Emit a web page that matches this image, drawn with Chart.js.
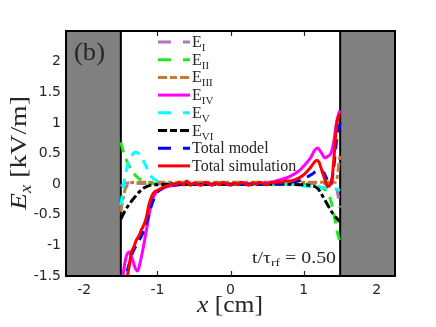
<!DOCTYPE html>
<html>
<head>
<meta charset="utf-8">
<script src="https://cdn.jsdelivr.net/npm/chart.js@4"></script>
<style>
  html, body { margin: 0; padding: 0; background: #fff; }
</style>
</head>
<body>
<canvas id="exChart" width="436" height="327"></canvas>
<script>
// tick values
const xTicks = [-2, -1, 0, 1, 2];
const yTicks = [-1.5, -1, -0.5, 0, 0.5, 1, 1.5, 2];
// electrode walls (x range in cm)
const wallLeft = [-2.25, -1.5];
const wallRight = [1.5, 2.25];

const seriesNames = ["E_I", "E_II", "E_III", "E_IV", "E_V", "E_VI", "Total model", "Total simulation"];

// E_I
const xI = [-1.5, -1.47, -1.44, -1.4, -1.2, -0.5, 0.5, 1.2, 1.4, 1.44, 1.47, 1.5];
const yI = [-0.04, 0, 0.02, 0.02, 0.01, 0, 0, 0.01, 0.01, -0.02, -0.18, -0.38];
// E_II
const xII = [-1.5, -1.47, -1.44, -1.4, -1.35, -1.3, -1.25, -1.2, -1.1, -1.0, 0, 1.0, 1.15, 1.25, 1.32, 1.38, 1.42, 1.46, 1.5];
const yII = [0.68, 0.55, 0.44, 0.33, 0.22, 0.14, 0.09, 0.05, 0.02, 0.01, 0, 0, -0.02, -0.06, -0.13, -0.3, -0.52, -0.78, -0.95];
// E_III
const xIII = [-1.5, -1.48, -1.46, -1.44, -1.41, -1.38, -1.3, -1.0, 0, 1.0, 1.43, 1.46, 1.48, 1.5];
const yIII = [-0.45, -0.3, -0.18, -0.08, -0.02, 0.01, 0.03, 0.03, 0.03, 0.03, 0.03, 0.12, 0.3, 0.5];
// E_IV
const xIV = [-1.49, -1.46, -1.43, -1.39, -1.35, -1.3, -1.27, -1.24, -1.2, -1.15, -1.11, -1.07, -1.03, -1.0, -0.93, -0.86, -0.7, -0.4, 0, 0.4,
  0.55, 0.67, 0.8, 0.95, 1.05, 1.1, 1.15, 1.19, 1.24, 1.29, 1.34, 1.38, 1.42, 1.45, 1.48, 1.5];
const yIV = [-1.7, -1.4, -1.2, -1.11, -1.2, -1.38, -1.42, -1.3, -1.08, -0.75, -0.48, -0.26, -0.16, -0.12, -0.07, -0.04, -0.01, 0, 0, 0.01,
  0.03, 0.07, 0.12, 0.23, 0.36, 0.44, 0.55, 0.59, 0.52, 0.43, 0.46, 0.52, 0.75, 1.0, 1.15, 1.2];
// E_V
const xV = [-1.5, -1.46, -1.42, -1.37, -1.3, -1.24, -1.17, -1.1, -1.0, -0.9, -0.7, 0, 0.8, 1.0, 1.2, 1.35, 1.45, 1.5];
const yV = [-0.35, 0.0, 0.25, 0.42, 0.52, 0.48, 0.33, 0.15, 0.05, 0.02, 0.0, 0, 0, -0.03, -0.05, -0.06, -0.08, -0.1];
// E_VI
const xVI = [-1.5, -1.45, -1.38, -1.3, -1.25, -1.18, -1.1, -1.0, -0.8, 0, 0.8, 0.95, 1.1, 1.2, 1.3, 1.4, 1.5];
const yVI = [-0.57, -0.45, -0.32, -0.2, -0.13, -0.06, -0.02, -0.01, 0, 0, 0, -0.01, -0.02, -0.08, -0.28, -0.48, -0.62];
// Total model
const xModel = [-1.46, -1.42, -1.38, -1.34, -1.28, -1.2, -1.14, -1.1, -1.06, -1.0, -0.9, -0.8, -0.5, 0.5, 0.8, 0.95, 1.1, 1.2, 1.28, 1.33, 1.37, 1.41, 1.45, 1.5];
const yModel = [-1.7, -1.45, -1.28, -1.12, -0.98, -0.8, -0.6, -0.42, -0.28, -0.13, -0.05, -0.02, 0, 0, 0.03, 0.06, 0.15, 0.22, 0.18, 0.05, 0.0, 0.25, 0.7, 1.0];
// Total simulation
const xSim = [-1.44, -1.41, -1.38, -1.36, -1.32, -1.29, -1.25, -1.22, -1.18, -1.15, -1.13, -1.11, -1.09, -1.07, -1.04, -1.0, -0.95, -0.9, -0.85,
  -0.8, -0.75, -0.7, -0.65, -0.6, -0.55, -0.5, -0.45, -0.4, -0.35, -0.3, -0.25, -0.2, -0.15, -0.1, -0.05, 0,
  0.05, 0.1, 0.15, 0.2, 0.25, 0.3, 0.35, 0.4, 0.45, 0.5, 0.55, 0.6, 0.65, 0.7, 0.75, 0.8,
  0.85, 0.9, 0.95, 1.0, 1.05, 1.1, 1.15, 1.18, 1.21, 1.25, 1.29, 1.33, 1.36, 1.39, 1.42, 1.45, 1.48, 1.5];
const ySim = [-1.7, -1.5, -1.3, -1.13, -1.02, -0.92, -0.84, -0.75, -0.65, -0.54, -0.42, -0.31, -0.24, -0.18, -0.13, -0.1, -0.07, -0.04, -0.02,
  0.01, -0.02, 0.03, -0.01, 0.05, -0.02, 0.02, 0.0, -0.02, 0.03, 0.01, -0.02, 0.02, -0.01, 0.03, 0.0, -0.02,
  0.02, -0.01, 0.03, 0.01, -0.02, 0.02, 0.0, 0.03, 0.01, -0.01, 0.03, 0.02, 0.04, 0.03, 0.05, 0.05,
  0.06, 0.08, 0.11, 0.15, 0.21, 0.28, 0.36, 0.39, 0.36, 0.22, 0.08, -0.04, -0.02, 0.1, 0.5, 0.95, 1.12, 1.15];

const pts = (xs, ys) => xs.map((x, i) => ({ x: x, y: ys[i] }));

const DASH = [10, 7];
const DASHDOT = [9, 3, 4, 3];

function line(label, xs, ys, color, dash, legendDash, order) {
  return {
    label: label,
    data: pts(xs, ys),
    borderColor: color,
    backgroundColor: color,
    borderWidth: 3,
    borderDash: dash,
    legendDash: legendDash,
    pointRadius: 0,
    fill: false,
    cubicInterpolationMode: "monotone",
    order: order
  };
}

const datasets = [
  line(seriesNames[0], xI, yI, "#b077b8", DASH, [13, 12], 8),
  line(seriesNames[1], xII, yII, "#22e822", DASH, [13, 12], 7),
  line(seriesNames[2], xIII, yIII, "#c27a35", DASHDOT, [9, 3, 7, 3], 6),
  line(seriesNames[3], xIV, yIV, "#ff00ff", [], [], 5),
  line(seriesNames[4], xV, yV, "#00ffff", DASH, [13, 12], 4),
  line(seriesNames[5], xVI, yVI, "#000000", DASHDOT, [9, 3, 7, 3], 3),
  line(seriesNames[6], xModel, yModel, "#0000ff", DASH, [13, 12], 2),
  line(seriesNames[7], xSim, ySim, "#ff0000", [], [], 1)
];

// text with sub-scripts: parts [text, size, italic, dy]
function richWidth(ctx, parts) {
  let w = 0;
  parts.forEach(p => {
    ctx.font = (p[2] ? "italic " : "") + p[1] + "px 'Liberation Serif'";
    w += ctx.measureText(p[0]).width;
  });
  return w;
}
function drawRich(ctx, parts, x, y, align, targetW) {
  const w = richWidth(ctx, parts);
  const sx = targetW ? targetW / w : 1;
  ctx.save();
  let start = x;
  if (align === "center") start = x - w * sx / 2;
  if (align === "right") start = x - w * sx;
  ctx.translate(start, y);
  ctx.scale(sx, 1);
  ctx.textBaseline = "alphabetic";
  ctx.textAlign = "left";
  let cx = 0;
  parts.forEach(p => {
    ctx.font = (p[2] ? "italic " : "") + p[1] + "px 'Liberation Serif'";
    ctx.fillText(p[0], cx, p[3] || 0);
    cx += ctx.measureText(p[0]).width;
  });
  ctx.restore();
}

const legendParts = [
  [["E", 16], ["I", 11, false, 4]],
  [["E", 16], ["II", 11, false, 4]],
  [["E", 16], ["III", 11, false, 4]],
  [["E", 16], ["IV", 11, false, 4]],
  [["E", 16], ["V", 11, false, 4]],
  [["E", 16], ["VI", 11, false, 4]],
  [["Total model", 16]],
  [["Total simulation", 16]]
];

const figurePlugin = {
  id: "figure",
  beforeDatasetsDraw(chart) {
    const { ctx, chartArea: a, scales: { x, y } } = chart;
    ctx.save();
    ctx.strokeStyle = "#262626";
    ctx.lineWidth = 1.2;
    ctx.beginPath();
    xTicks.forEach(v => {
      const px = Math.round(x.getPixelForValue(v)) + 0.5;
      ctx.moveTo(px, a.bottom); ctx.lineTo(px, a.bottom - 5);
      ctx.moveTo(px, a.top); ctx.lineTo(px, a.top + 5);
    });
    ctx.stroke();
    ctx.fillStyle = "#808080";
    ctx.strokeStyle = "#000";
    ctx.lineWidth = 2;
    [wallLeft, wallRight].forEach(w => {
      const x0 = x.getPixelForValue(w[0]);
      const x1 = x.getPixelForValue(w[1]);
      ctx.fillRect(x0, a.top, x1 - x0, a.bottom - a.top);
      ctx.strokeRect(x0, a.top, x1 - x0, a.bottom - a.top);
    });
    ctx.restore();
  },
  afterDatasetsDraw(chart) {
    const { ctx, chartArea: a } = chart;
    ctx.save();
    // frame
    ctx.strokeStyle = "#000";
    ctx.lineWidth = 2;
    ctx.strokeRect(a.left, a.top, a.right - a.left, a.bottom - a.top);

    // legend
    chart.data.datasets.forEach((ds, i) => {
      const cy = 42 + i * 17.7;
      ctx.strokeStyle = ds.borderColor;
      ctx.lineWidth = 3;
      ctx.setLineDash(ds.legendDash);
      ctx.beginPath();
      ctx.moveTo(158, cy);
      ctx.lineTo(190, cy);
      ctx.stroke();
      ctx.setLineDash([]);
      ctx.fillStyle = "#262626";
      drawRich(ctx, legendParts[i], 192, cy + 5, "left");
    });

    ctx.fillStyle = "#262626";
    // panel label
    drawRich(ctx, [["(b)", 26]], 74, 60, "left", 31);
    // time label
    drawRich(ctx, [["t/\u03c4", 16], ["rf", 11, false, 3], [" = 0.50", 16]], 336, 263, "right", 84);
    // x title
    drawRich(ctx, [["x", 24, true], [" [cm]", 24]], 230, 312, "center", 66);
    // y title
    ctx.translate(26, 153);
    ctx.rotate(-Math.PI / 2);
    drawRich(ctx, [["E", 24, true], ["x", 16, true, 5], [" [kV/m]", 24]], 0, 0, "center", 114);
    ctx.restore();
  }
};

const ctx = document.getElementById("exChart").getContext("2d");
const chart = new Chart(ctx, {
  type: "line",
  data: { datasets: datasets },
  options: {
    responsive: false,
    animation: false,
    layout: { padding: { left: 0, top: 31, right: 41, bottom: 0 } },
    plugins: {
      legend: { display: false },
      tooltip: { enabled: false }
    },
    scales: {
      x: {
        type: "linear",
        min: -2.25,
        max: 2.25,
        grid: { display: false, drawTicks: false },
        border: { display: false },
        afterBuildTicks: s => { s.ticks = xTicks.map(v => ({ value: v })); },
        afterFit: s => { s.height = 51; },
        ticks: {
          padding: 6,
          maxRotation: 0,
          autoSkip: false,
          color: "#262626",
          font: { family: "DejaVu Sans", size: 14 },
          callback: v => String(v)
        }
      },
      y: {
        type: "linear",
        min: -1.5,
        max: 2.5,
        grid: { display: false, drawTicks: false },
        border: { display: false },
        afterBuildTicks: s => { s.ticks = yTicks.map(v => ({ value: v })); },
        afterFit: s => { s.width = 66; },
        ticks: {
          padding: 5,
          autoSkip: false,
          color: "#262626",
          font: { family: "DejaVu Sans", size: 14 },
          callback: v => String(v)
        }
      }
    }
  },
  plugins: [figurePlugin]
});
</script>
</body>
</html>
